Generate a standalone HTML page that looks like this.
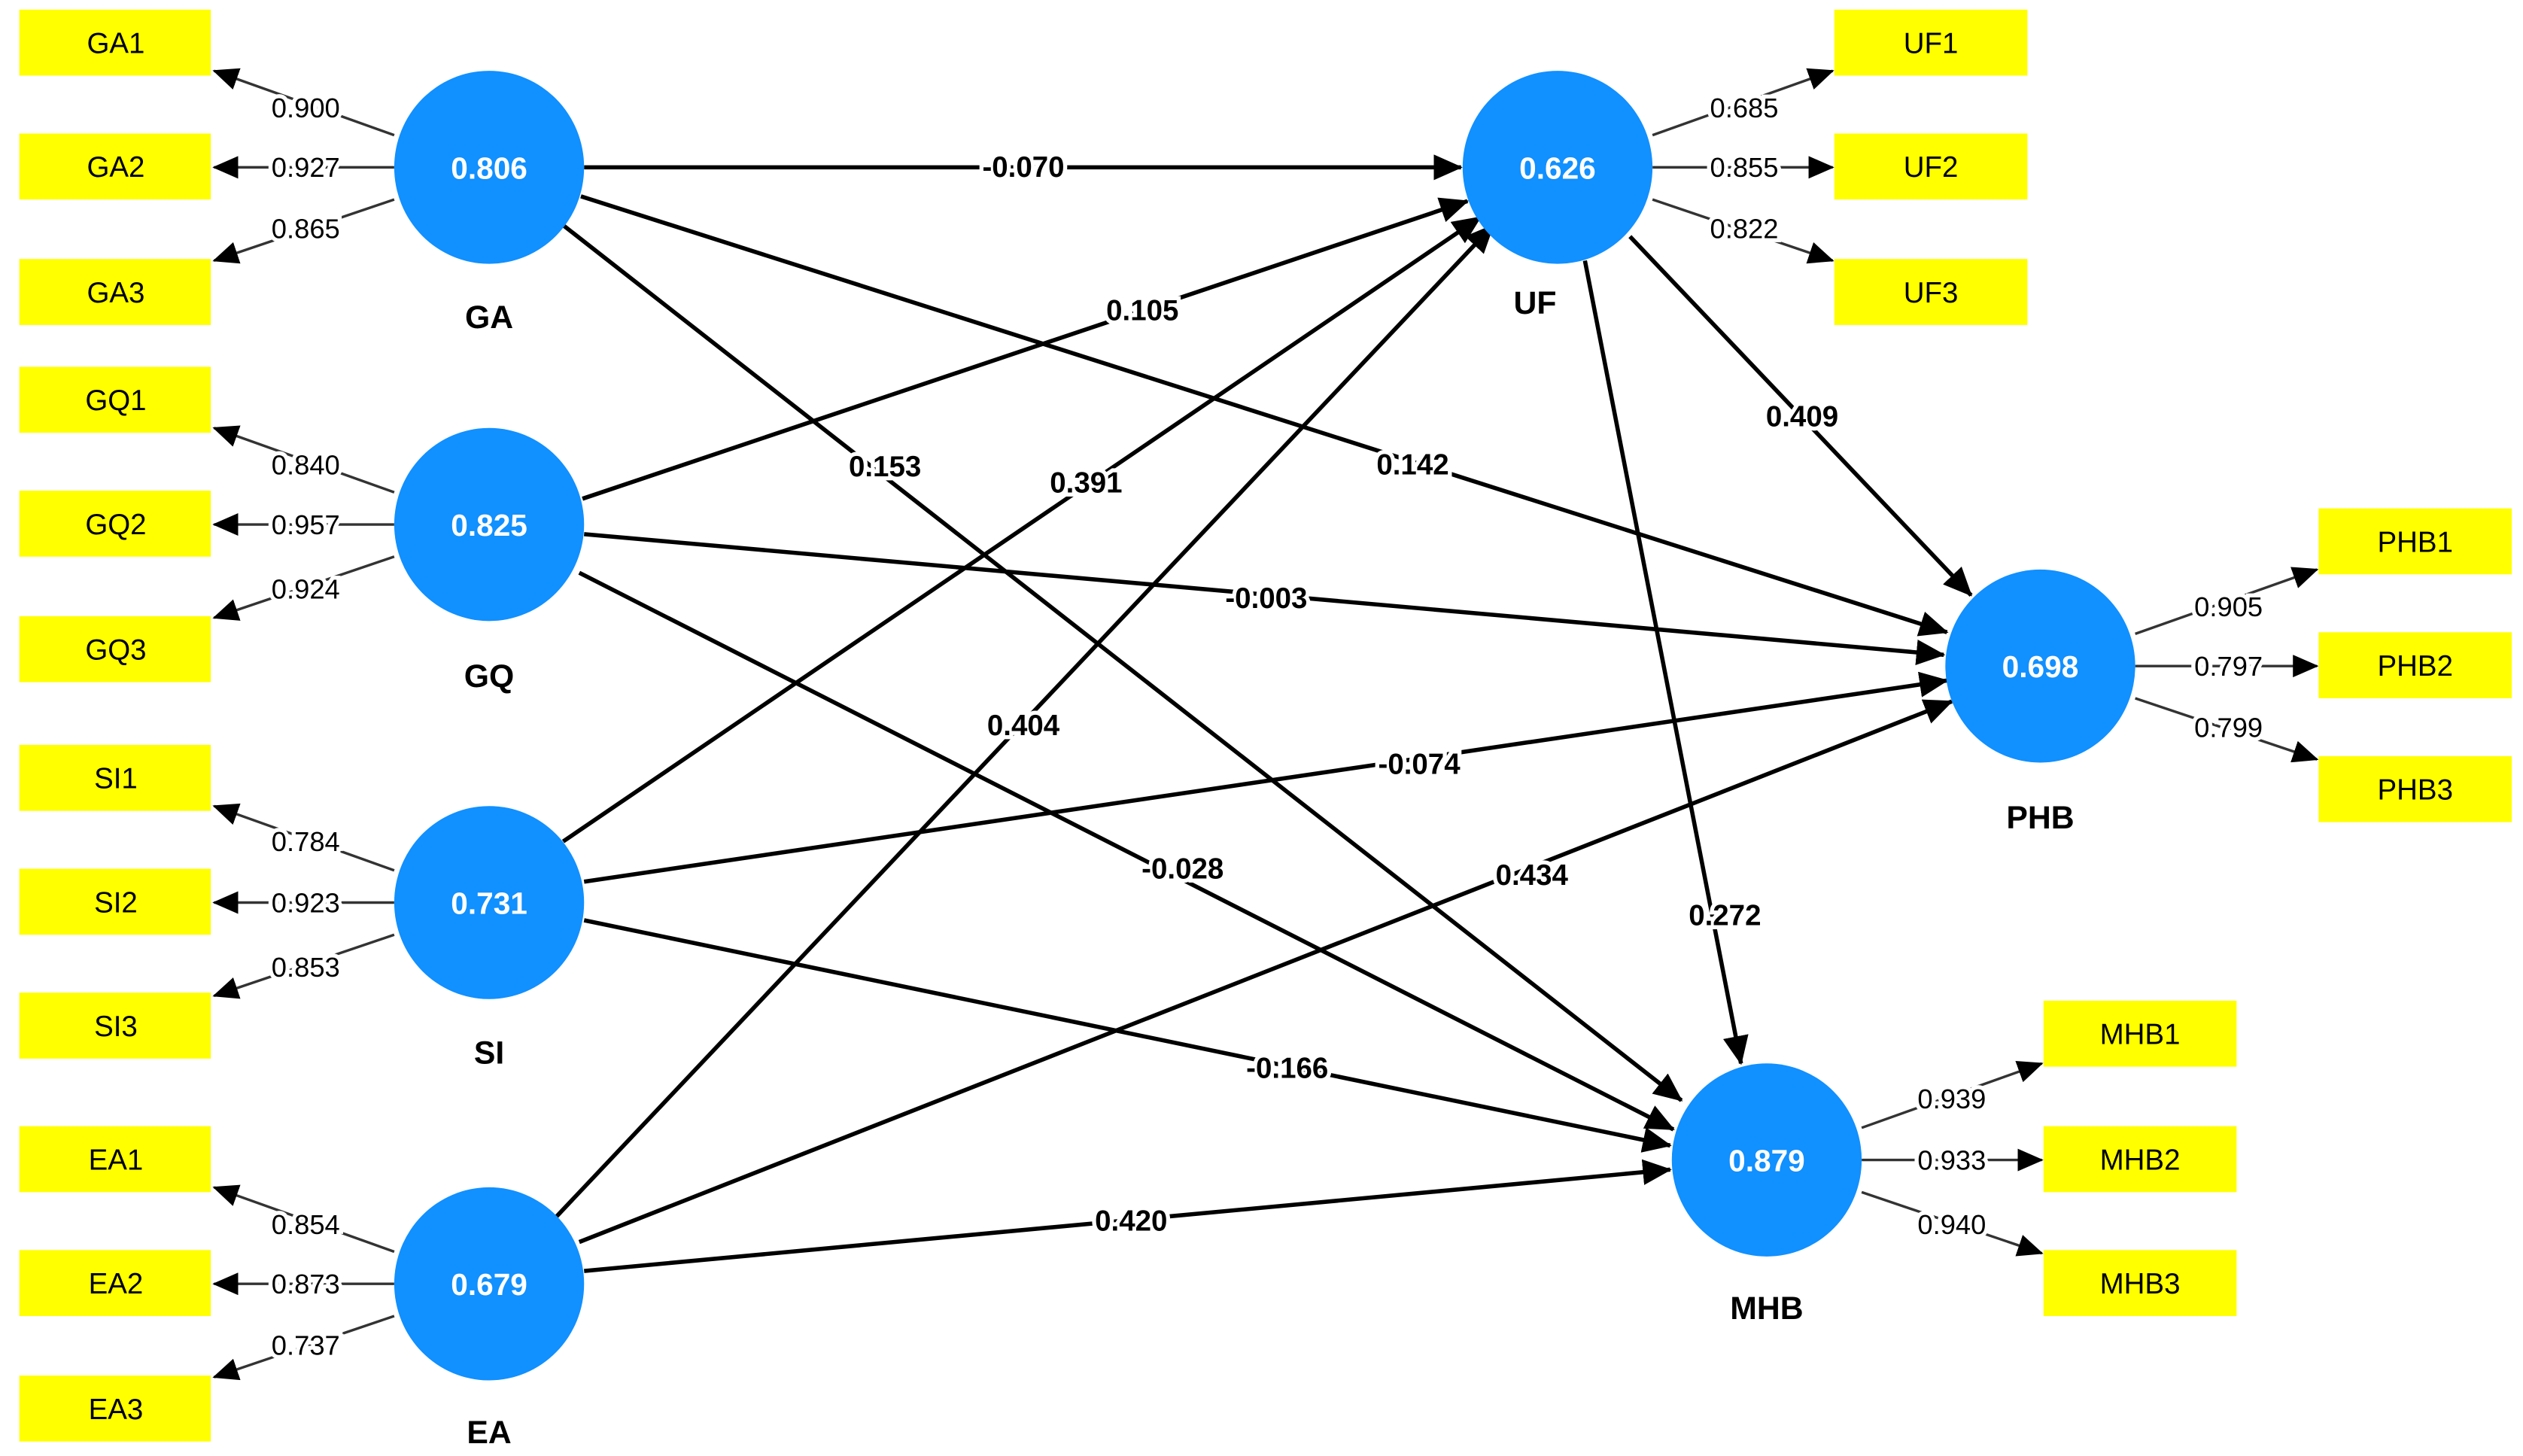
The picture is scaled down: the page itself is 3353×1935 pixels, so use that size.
<!DOCTYPE html>
<html><head><meta charset="utf-8"><style>
html,body{margin:0;padding:0;background:#fff;}
svg{display:block;}
text{font-family:"Liberation Sans",Arial,sans-serif;}
</style></head><body>
<svg width="3353" height="1935" viewBox="0 0 1568 905" preserveAspectRatio="none" xmlns="http://www.w3.org/2000/svg">
<defs>
<marker id="a" markerUnits="userSpaceOnUse" markerWidth="18" markerHeight="16" refX="17" refY="8" orient="auto"><path d="M0,0 L18,8 L0,16 z" fill="#000"/></marker>
<marker id="b" markerUnits="userSpaceOnUse" markerWidth="16" markerHeight="14" refX="15" refY="7" orient="auto"><path d="M0,0 L16,7 L0,14 z" fill="#000"/></marker>
</defs>
<g stroke="#000" stroke-width="2.6" fill="none" marker-end="url(#a)">
<line x1="363" y1="104" x2="908" y2="104"/>
<line x1="361" y1="122" x2="1210" y2="393"/>
<line x1="350" y1="140" x2="1045" y2="684"/>
<line x1="362" y1="310" x2="912" y2="125"/>
<line x1="363" y1="332" x2="1208" y2="407"/>
<line x1="360" y1="356" x2="1040" y2="702"/>
<line x1="350" y1="523" x2="920" y2="135"/>
<line x1="363" y1="548" x2="1210" y2="423"/>
<line x1="363" y1="572" x2="1038" y2="712"/>
<line x1="346" y1="756" x2="928" y2="140"/>
<line x1="360" y1="772" x2="1213" y2="436"/>
<line x1="363" y1="790" x2="1038" y2="727"/>
<line x1="1013" y1="147" x2="1225" y2="370"/>
<line x1="985" y1="162" x2="1082" y2="661"/>
</g>
<g stroke="#333" stroke-width="1.6" fill="none" marker-end="url(#b)">
<line x1="245" y1="84" x2="133" y2="44"/><line x1="245" y1="104" x2="133" y2="104"/><line x1="245" y1="124" x2="133" y2="162"/>
<line x1="245" y1="306" x2="133" y2="266"/><line x1="245" y1="326" x2="133" y2="326"/><line x1="245" y1="346" x2="133" y2="384"/>
<line x1="245" y1="541" x2="133" y2="501"/><line x1="245" y1="561" x2="133" y2="561"/><line x1="245" y1="581" x2="133" y2="619"/>
<line x1="245" y1="778" x2="133" y2="738"/><line x1="245" y1="798" x2="133" y2="798"/><line x1="245" y1="818" x2="133" y2="856"/>
<line x1="1027" y1="84" x2="1139" y2="44"/><line x1="1027" y1="104" x2="1139" y2="104"/><line x1="1027" y1="124" x2="1139" y2="162"/>
<line x1="1327" y1="394" x2="1440" y2="354"/><line x1="1327" y1="414" x2="1440" y2="414"/><line x1="1327" y1="434" x2="1440" y2="472"/>
<line x1="1157" y1="701" x2="1269" y2="661"/><line x1="1157" y1="721" x2="1269" y2="721"/><line x1="1157" y1="741" x2="1269" y2="779"/>
</g>
<g fill="#ffff00">
<rect x="12" y="6" width="119" height="41"/><rect x="12" y="83" width="119" height="41"/><rect x="12" y="161" width="119" height="41"/>
<rect x="12" y="228" width="119" height="41"/><rect x="12" y="305" width="119" height="41"/><rect x="12" y="383" width="119" height="41"/>
<rect x="12" y="463" width="119" height="41"/><rect x="12" y="540" width="119" height="41"/><rect x="12" y="617" width="119" height="41"/>
<rect x="12" y="700" width="119" height="41"/><rect x="12" y="777" width="119" height="41"/><rect x="12" y="855" width="119" height="41"/>
<rect x="1140" y="6" width="120" height="41"/><rect x="1140" y="83" width="120" height="41"/><rect x="1140" y="161" width="120" height="41"/>
<rect x="1441" y="316" width="120" height="41"/><rect x="1441" y="393" width="120" height="41"/><rect x="1441" y="470" width="120" height="41"/>
<rect x="1270" y="622" width="120" height="41"/><rect x="1270" y="700" width="120" height="41"/><rect x="1270" y="777" width="120" height="41"/>
</g>
<g font-size="18" text-anchor="middle" fill="#000">
<text x="72" y="33">GA1</text><text x="72" y="110">GA2</text><text x="72" y="188">GA3</text>
<text x="72" y="255">GQ1</text><text x="72" y="332">GQ2</text><text x="72" y="410">GQ3</text>
<text x="72" y="490">SI1</text><text x="72" y="567">SI2</text><text x="72" y="644">SI3</text>
<text x="72" y="727">EA1</text><text x="72" y="804">EA2</text><text x="72" y="882">EA3</text>
<text x="1200" y="33">UF1</text><text x="1200" y="110">UF2</text><text x="1200" y="188">UF3</text>
<text x="1501" y="343">PHB1</text><text x="1501" y="420">PHB2</text><text x="1501" y="497">PHB3</text>
<text x="1330" y="649">MHB1</text><text x="1330" y="727">MHB2</text><text x="1330" y="804">MHB3</text>
</g>
<g fill="#1190ff">
<ellipse cx="304" cy="104" rx="59" ry="60"/><ellipse cx="304" cy="326" rx="59" ry="60"/>
<ellipse cx="304" cy="561" rx="59" ry="60"/><ellipse cx="304" cy="798" rx="59" ry="60"/>
<ellipse cx="968" cy="104" rx="59" ry="60"/><ellipse cx="1268" cy="414" rx="59" ry="60"/>
<ellipse cx="1098" cy="721" rx="59" ry="60"/>
</g>
<g font-size="19" font-weight="bold" text-anchor="middle" fill="#fff">
<text x="304" y="111">0.806</text><text x="304" y="333">0.825</text><text x="304" y="568">0.731</text>
<text x="304" y="805">0.679</text><text x="968" y="111">0.626</text><text x="1268" y="421">0.698</text><text x="1098" y="728">0.879</text>
</g>
<g font-size="20" font-weight="bold" text-anchor="middle" fill="#000">
<text x="304" y="204">GA</text><text x="304" y="427">GQ</text><text x="304" y="661">SI</text><text x="304" y="897">EA</text>
<text x="954" y="195">UF</text><text x="1268" y="515">PHB</text><text x="1098" y="820">MHB</text>
</g>
<g font-size="17" text-anchor="middle" fill="#000" style="paint-order:stroke" stroke="#fff" stroke-width="5">
<text x="190" y="73">0.900</text><text x="190" y="110">0.927</text><text x="190" y="148">0.865</text>
<text x="190" y="295">0.840</text><text x="190" y="332">0.957</text><text x="190" y="372">0.924</text>
<text x="190" y="529">0.784</text><text x="190" y="567">0.923</text><text x="190" y="607">0.853</text>
<text x="190" y="767">0.854</text><text x="190" y="804">0.873</text><text x="190" y="842">0.737</text>
<text x="1084" y="73">0.685</text><text x="1084" y="110">0.855</text><text x="1084" y="148">0.822</text>
<text x="1385" y="383">0.905</text><text x="1385" y="420">0.797</text><text x="1385" y="458">0.799</text>
<text x="1213" y="689">0.939</text><text x="1213" y="727">0.933</text><text x="1213" y="767">0.940</text>
</g>
<g font-size="18" font-weight="bold" text-anchor="middle" fill="#000" style="paint-order:stroke" stroke="#fff" stroke-width="5">
<text x="636" y="110">-0.070</text><text x="878" y="295">0.142</text><text x="550" y="296">0.153</text>
<text x="710" y="199">0.105</text><text x="787" y="378">-0.003</text><text x="735" y="546">-0.028</text>
<text x="675" y="306">0.391</text><text x="882" y="481">-0.074</text><text x="800" y="670">-0.166</text>
<text x="636" y="457">0.404</text><text x="952" y="550">0.434</text><text x="703" y="765">0.420</text>
<text x="1120" y="265">0.409</text><text x="1072" y="575">0.272</text>
</g>
</svg>
</body></html>
